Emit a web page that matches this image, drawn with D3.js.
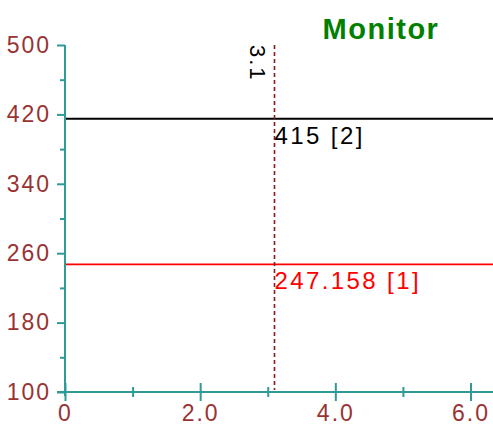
<!DOCTYPE html>
<html>
<head>
<meta charset="utf-8">
<script src="https://cdn.jsdelivr.net/npm/d3@7"></script>
<style>
  html, body { margin: 0; padding: 0; background: #fff; }
  svg { display: block; }
</style>
</head>
<body>
<script>
// Axis ranges and ticks
const xDomain = [0, 6.333];
const yDomain = [100, 500];
const xMajorTicks = [0, 2, 4, 6];
const xMajorLabels = ["0", "2.0", "4.0", "6.0"];
const xMinorTicks = [1, 3, 5];
const yMajorTicks = [100, 180, 260, 340, 420, 500];
const yMajorLabels = ["100", "180", "260", "340", "420", "500"];
const yMinorTicks = [140, 220, 300, 380, 460];

// Monitored levels (horizontal lines) and the cursor position
const levelNames = ["[1]", "[2]"];
const levelValues = [247.158, 415];
const levelColors = ["#ff0000", "#000000"];
const cursorX = 3.1;
const title = "Monitor";

const W = 493, H = 427;
const axisColor = "#2f9a96";
const labelColor = "#993333";
const font = "'Liberation Sans', Arial, sans-serif";

const svg = d3.select("body").append("svg").attr("width", W).attr("height", H);

const x = d3.scaleLinear().domain(xDomain).range([65, 493]);
const y = d3.scaleLinear().domain(yDomain).range([392, 45]);

// Title
svg.append("text")
  .attr("x", 381).attr("y", 39)
  .attr("text-anchor", "middle")
  .attr("font-family", font).attr("font-weight", "bold").attr("font-size", 29)
  .attr("letter-spacing", 1.5)
  .attr("fill", "#008000")
  .text(title);

// Y axis: major ticks with labels, then minor ticks
const yAxis = d3.axisLeft(y).tickValues(yMajorTicks).tickSize(8).tickPadding(6)
  .tickFormat((d, i) => yMajorLabels[i]);
const gy = svg.append("g").attr("transform", `translate(${x(0)},0)`).call(yAxis);
gy.select(".domain").remove();
gy.selectAll(".tick line").attr("stroke", axisColor).attr("stroke-width", 2);
gy.selectAll(".tick text").attr("fill", labelColor)
  .attr("font-family", font).attr("font-size", 23).attr("letter-spacing", 2);
const yMinor = d3.axisLeft(y).tickValues(yMinorTicks).tickSize(5).tickFormat("");
const gym = svg.append("g").attr("transform", `translate(${x(0)},0)`).call(yMinor);
gym.select(".domain").remove();
gym.selectAll(".tick line").attr("stroke", axisColor).attr("stroke-width", 2);

// Y axis line
svg.append("line")
  .attr("x1", x(0)).attr("x2", x(0))
  .attr("y1", y(yDomain[1])).attr("y2", y(yDomain[0]) + 4)
  .attr("stroke", axisColor).attr("stroke-width", 2);

// X axis: line, major ticks crossing the line, minor ticks
svg.append("line")
  .attr("x1", x(0) - 8).attr("x2", W)
  .attr("y1", y(yDomain[0])).attr("y2", y(yDomain[0]))
  .attr("stroke", axisColor).attr("stroke-width", 2);

const xAxis = d3.axisBottom(x).tickValues(xMajorTicks).tickSize(9).tickPadding(4)
  .tickFormat((d, i) => xMajorLabels[i]);
const gx = svg.append("g").attr("transform", `translate(0,${y(yDomain[0])})`).call(xAxis);
gx.select(".domain").remove();
gx.selectAll(".tick line").attr("y1", -9).attr("stroke", axisColor).attr("stroke-width", 2);
gx.selectAll(".tick text").attr("fill", labelColor)
  .attr("font-family", font).attr("font-size", 23).attr("letter-spacing", 2);
const xMinor = d3.axisBottom(x).tickValues(xMinorTicks).tickSize(5).tickFormat("");
const gxm = svg.append("g").attr("transform", `translate(0,${y(yDomain[0])})`).call(xMinor);
gxm.select(".domain").remove();
gxm.selectAll(".tick line").attr("y1", -5).attr("stroke", axisColor).attr("stroke-width", 2);

// Horizontal level lines
svg.selectAll("line.level").data(levelValues).enter().append("line")
  .attr("class", "level")
  .attr("x1", x(0) + 1).attr("x2", W)
  .attr("y1", d => y(d)).attr("y2", d => y(d))
  .attr("stroke", (d, i) => levelColors[i]).attr("stroke-width", (d, i) => i === 1 ? 2 : 1.6);

// Cursor line
svg.append("line")
  .attr("x1", x(cursorX)).attr("x2", x(cursorX))
  .attr("y1", y(yDomain[1])).attr("y2", y(yDomain[0]) - 2)
  .attr("stroke", "#8b1a1a").attr("stroke-width", 1.6)
  .attr("stroke-dasharray", "4,3");

svg.append("text")
  .attr("transform", `translate(${x(cursorX) - 25},${y(yDomain[1])}) rotate(90)`)
  .attr("font-family", font).attr("font-size", 22).attr("letter-spacing", 2)
  .attr("fill", "#000")
  .text(cursorX.toFixed(1));

// Level value labels at the cursor
svg.selectAll("text.levelLabel").data(levelValues).enter().append("text")
  .attr("class", "levelLabel")
  .attr("x", x(cursorX))
  .attr("y", d => y(d) + 25)
  .attr("font-family", font).attr("font-size", 24).attr("letter-spacing", 2.4)
  .attr("fill", (d, i) => levelColors[i])
  .text((d, i) => `${d} ${levelNames[i]}`);
</script>
</body>
</html>
